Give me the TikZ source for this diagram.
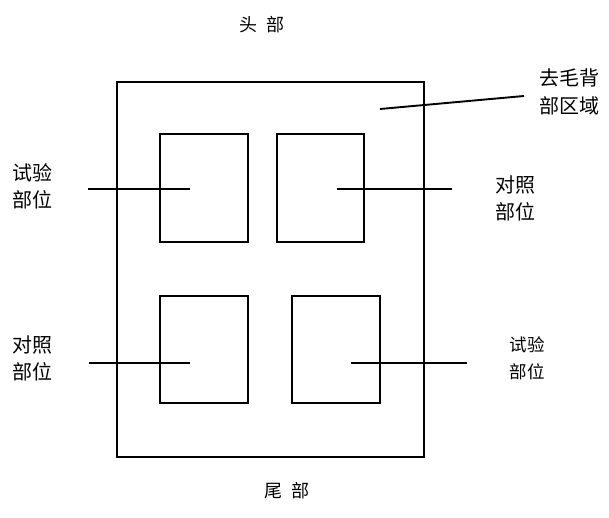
\documentclass[tikz,border=0pt]{standalone}
\usepackage{fontspec}
\newfontfamily\cjk{Noto Sans CJK SC}
\begin{document}
\begin{tikzpicture}[x=1pt,y=-1pt,
  box/.style={draw,line width=1.9pt,inner sep=0pt},
  lead/.style={line width=1.9pt},
  lbl/.style={inner sep=0pt,align=left,font=\cjk\fontsize{20}{27.5}\selectfont},
  lbls/.style={inner sep=0pt,align=left,font=\cjk\fontsize{17.5}{27}\selectfont},
  ttl/.style={inner sep=0pt,font=\cjk\fontsize{18}{22}\selectfont}]
\useasboundingbox (0,0) rectangle (609,518);
% outer area
\node[box,minimum width=307pt,minimum height=375pt] (outer) at (270.5,269.5) {};
% inner boxes
\node[box,minimum width=88pt,minimum height=108pt] (tl) at (204,188) {};
\node[box,minimum width=87pt,minimum height=108pt] (tr) at (320.5,188) {};
\node[box,minimum width=88pt,minimum height=107pt] (bl) at (204,349.5) {};
\node[box,minimum width=88pt,minimum height=107pt] (br) at (336,349.5) {};
% titles
\node[ttl] (head) at (262,25) {头\hspace{0.5em}部};
\node[ttl] (tail) at (287,491) {尾\hspace{0.5em}部};
% labels
\node[lbl,anchor=west] (l1) at (12.5,186.5) {试验\\部位};
\node[lbl,anchor=west] (l2) at (495.5,198.5) {对照\\部位};
\node[lbl,anchor=west] (l3) at (12.5,358.5) {对照\\部位};
\node[lbls,anchor=west] (l4) at (509.5,358.5) {试验\\部位};
\node[lbl,anchor=west] (l5) at (539.5,92) {去毛背\\部区域};
% leader coordinates
\coordinate (a1) at (88,189);  \coordinate (b1) at (190,189);
\coordinate (a2) at (337,189); \coordinate (b2) at (452,189);
\coordinate (a3) at (89,363);  \coordinate (b3) at (190,363);
\coordinate (a4) at (351,363); \coordinate (b4) at (467,363);
\coordinate (a5) at (380,109); \coordinate (b5) at (524,96);
\draw[lead] (a1) -- (b1);
\draw[lead] (a2) -- (b2);
\draw[lead] (a3) -- (b3);
\draw[lead] (a4) -- (b4);
\draw[lead] (a5) -- (b5);
\end{tikzpicture}
\end{document}
